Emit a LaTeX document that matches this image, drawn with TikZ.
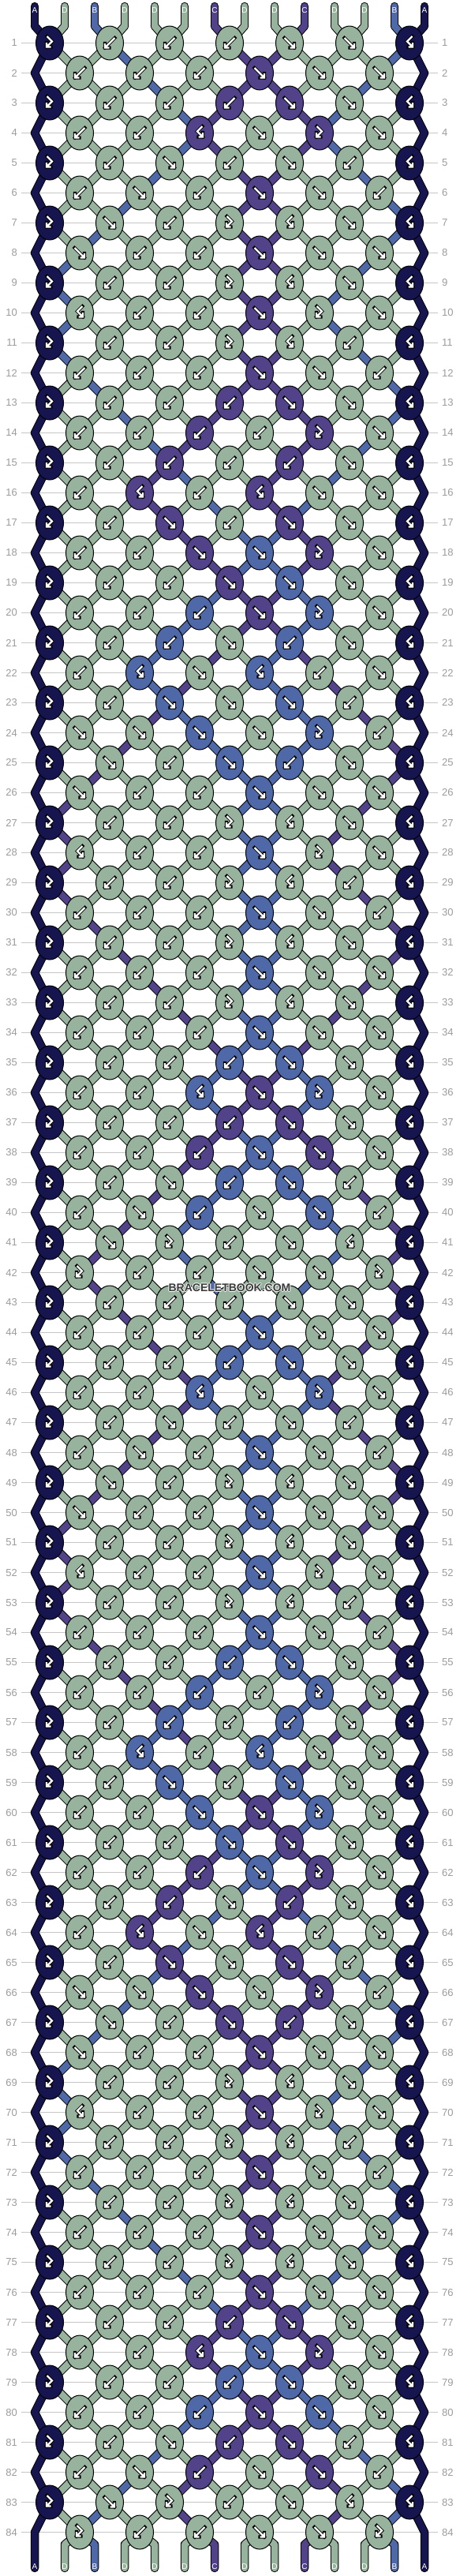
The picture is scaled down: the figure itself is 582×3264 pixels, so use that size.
\documentclass[tikz,border=0pt]{standalone}
\usepackage{fontspec}
\setmainfont{Liberation Sans}
\usetikzlibrary{shapes.geometric}

\definecolor{cA}{HTML}{17154F}
\definecolor{cB}{HTML}{4F69A8}
\definecolor{cC}{HTML}{52428A}
\definecolor{cD}{HTML}{97B39D}
\definecolor{rulegray}{HTML}{C6C6C6}
\definecolor{numgray}{HTML}{9C9C9C}
\definecolor{logogray}{HTML}{3A3A3A}

% colour carried by each string, and the node it last left
\newcommand\setstr[2]{\expandafter\xdef\csname st#1\endcsname{#2}}
\newcommand\getstr[1]{\csname st#1\endcsname}
\newcommand\setlast[2]{\expandafter\xdef\csname lp#1\endcsname{#2}}

% pass 1: string outlines, pass 2: string colours, pass 3: knots and tags
\def\pass{1}
\newcommand\strand[2]{%
  \ifnum\pass=1 \draw[strout] #2;\fi
  \ifnum\pass=2 \draw[strin,draw=c#1] #2;\fi}

% arrow glyphs, shaft then head
\def\arrowf{(-6.5,-6.5) -- (6,6) (6,0.5) -- (6,6) -- (0.5,6)}
\def\arrowb{(6.5,-6.5) -- (-6,6) (-6,0.5) -- (-6,6) -- (-0.5,6)}
\def\arrowF{(-3.5,-8.5) -- (3,-2) -- (-4,5) (-4,-0.5) -- (-4,5) -- (1.5,5)}
\def\arrowB{(3.5,-8.5) -- (-3,-2) -- (4,5) (4,-0.5) -- (4,5) -- (-1.5,5)}

% one knot: row, column, type (f, b, F = forward-backward, B = backward-forward)
\newcommand\tie[3]{%
  \pgfmathtruncatemacro\kr{#2+1}%
  \pgfmathtruncatemacro\rp{#1-1}%
  \edef\lc{\getstr{#2}}\edef\rc{\getstr{\kr}}%
  \edef\lpl{\csname lp#2\endcsname}\edef\lpr{\csname lp\kr\endcsname}%
  \edef\kc{\rc}%
  \if f#3\edef\kc{\lc}\fi
  \if F#3\edef\kc{\lc}\fi
  \ifnum\pass=3
    \node[knot,fill=c\kc] (n#1-#2) at ({63+38*#2},{54.5+38*(#1-1)}) {};
    \edef\apath{\csname arrow#3\endcsname}%
    \draw[arrout,shift={(n#1-#2.center)}] \apath;
    \draw[arrin,shift={(n#1-#2.center)}] \apath;
  \else
    \coordinate (n#1-#2) at ({63+38*#2},{54.5+38*(#1-1)});
    \ifnum#2=0 \ifnum#1>1 \strand{\lc}{(\lpl.center) -- (zl\rp) -- (n#1-#2.center)}%
      \else \strand{\lc}{(\lpl.center) -- (n#1-#2.center)}\fi
    \else \strand{\lc}{(\lpl.center) -- (n#1-#2.center)}\fi
    \ifnum#2=12 \ifnum#1>1 \strand{\rc}{(\lpr.center) -- (zr\rp) -- (n#1-#2.center)}%
      \else \strand{\rc}{(\lpr.center) -- (n#1-#2.center)}\fi
    \else \strand{\rc}{(\lpr.center) -- (n#1-#2.center)}\fi
  \fi
  \setlast{#2}{n#1-#2}\setlast{\kr}{n#1-#2}%
  \if f#3\setstr{#2}{\rc}\setstr{\kr}{\lc}\fi
  \if b#3\setstr{#2}{\rc}\setstr{\kr}{\lc}\fi
}

\def\knotrows{
  1/{F,b,b,b,f,f,B}, 2/{b,b,b,f,f,f}, 3/{F,b,b,b,f,f,B}, 4/{b,b,B,f,F,f},
  5/{F,b,f,b,f,b,B}, 6/{b,f,b,f,f,b}, 7/{F,f,b,F,B,f,B}, 8/{f,b,b,f,f,f},
  9/{F,b,b,F,B,f,B}, 10/{B,b,b,f,F,f}, 11/{F,b,b,F,B,b,B}, 12/{b,b,b,f,f,b},
  13/{F,b,b,b,f,f,B}, 14/{b,b,b,b,F,f}, 15/{F,b,b,b,b,f,B}, 16/{b,B,b,B,f,f},
  17/{F,b,f,b,f,f,B}, 18/{b,b,f,f,F,f}, 19/{F,b,b,f,f,f,B}, 20/{b,b,b,f,F,f},
  21/{F,b,b,f,b,f,B}, 22/{b,B,f,B,b,f}, 23/{F,b,f,f,f,b,B}, 24/{f,f,f,f,F,b},
  25/{F,f,b,f,b,f,B}, 26/{f,b,b,f,f,f}, 27/{F,b,b,F,B,f,B}, 28/{B,b,b,f,F,f},
  29/{F,b,b,F,B,b,B}, 30/{b,b,b,f,f,b}, 31/{F,b,b,F,B,f,B}, 32/{b,b,b,f,f,f},
  33/{F,b,b,F,B,f,B}, 34/{b,b,b,f,f,f}, 35/{F,b,b,b,f,f,B}, 36/{b,b,B,f,F,f},
  37/{F,b,b,b,f,f,B}, 38/{b,b,b,f,f,f}, 39/{F,b,f,b,f,b,B}, 40/{b,f,b,f,f,b},
  41/{F,f,F,b,f,B,B}, 42/{F,b,b,f,f,F}, 43/{F,b,b,b,f,f,B}, 44/{b,b,b,f,f,f},
  45/{F,b,b,b,f,f,B}, 46/{b,b,B,f,F,f}, 47/{F,b,f,b,f,b,B}, 48/{b,f,b,f,f,b},
  49/{F,f,b,F,B,f,B}, 50/{f,b,b,f,f,f}, 51/{F,b,b,F,B,f,B}, 52/{B,b,b,f,F,f},
  53/{F,b,b,F,B,b,B}, 54/{b,b,b,f,f,b}, 55/{F,b,b,b,f,f,B}, 56/{b,b,b,b,F,f},
  57/{F,b,b,b,b,f,B}, 58/{b,B,b,B,f,f}, 59/{F,b,f,b,f,f,B}, 60/{b,b,f,f,F,f},
  61/{F,b,b,f,f,f,B}, 62/{b,b,b,f,F,f}, 63/{F,b,b,f,b,f,B}, 64/{b,B,f,B,b,f},
  65/{F,b,f,f,f,b,B}, 66/{f,f,f,f,F,b}, 67/{F,f,b,f,b,f,B}, 68/{f,b,b,f,f,f},
  69/{F,b,b,F,B,f,B}, 70/{B,b,b,f,F,f}, 71/{F,b,b,F,B,b,B}, 72/{b,b,b,f,f,b},
  73/{F,b,b,F,B,f,B}, 74/{b,b,b,f,f,f}, 75/{F,b,b,F,B,f,B}, 76/{b,b,b,f,f,f},
  77/{F,b,b,b,f,f,B}, 78/{b,b,B,f,F,f}, 79/{F,b,b,b,f,f,B}, 80/{b,b,b,f,f,f},
  81/{F,b,f,b,f,b,B}, 82/{b,f,b,f,f,b}, 83/{F,f,F,b,f,B,B}, 84/{F,b,b,f,f,F}}

% the whole weave, drawn according to \pass
\newcommand\weave{%
  % strings at the top
  \foreach \sc [count=\i from 0] in {A,D,B,D,D,D,C,D,D,C,D,D,B,A}{
    \setstr{\i}{\sc}\setlast{\i}{u\i}
    \strand{\sc}{(t\i) -- (u\i)}
    \ifnum\pass=3 \node[endtag] (a\i) at ({44+38*\i},13) {\sc};\fi
  }
  % the knots, row by row
  \foreach \rw/\knots in \knotrows {
    \pgfmathtruncatemacro\kofs{mod(\rw+1,2)}
    \foreach \kt [count=\kn from 0] in \knots {
      \pgfmathtruncatemacro\kcol{2*\kn+\kofs}
      \tie{\rw}{\kcol}{\kt}
    }
  }
  % strings at the bottom
  \foreach \i in {1,...,12}{
    \edef\lp{\csname lp\i\endcsname}\edef\sc{\getstr{\i}}
    \strand{\sc}{(\lp.center) -- (v\i) -- (w\i)}
    \ifnum\pass=3 \node[endtag] (b\i) at ({44+38*\i},3252) {\sc};\fi
  }
  \edef\lp{\csname lp0\endcsname}
  \strand{A}{(\lp.center) -- (zl84) -- (w0)}
  \edef\lp{\csname lp13\endcsname}
  \strand{A}{(\lp.center) -- (zr84) -- (w13)}
  \ifnum\pass=3
    \node[endtag] (b0) at (44,3252) {\getstr{0}};
    \node[endtag] (b13) at (538,3252) {\getstr{13}};
  \fi
}

\begin{document}
\begin{tikzpicture}[x=1pt,y=-1pt]
\tikzstyle{knot}=[ellipse,draw=black,line width=1pt,minimum width=35pt,minimum height=43pt,inner sep=0pt]
\tikzstyle{strout}=[draw=black,line width=10.5pt,line cap=round,line join=round]
\tikzstyle{strin}=[line width=8.5pt,line cap=round,line join=round]
\tikzstyle{arrout}=[draw=black,line width=4.2pt,line cap=rect,line join=miter]
\tikzstyle{arrin}=[draw=white,line width=2.2pt,line join=miter]
\tikzstyle{rowrule}=[draw=rulegray,line width=1pt]
\tikzstyle{rownum}=[text=numgray,font=\fontsize{13}{13}\selectfont,inner sep=0pt]
\tikzstyle{endtag}=[text=white,font=\fontsize{10}{10}\selectfont,inner sep=0pt]
\tikzstyle{logo}=[text=logogray,font=\bfseries\fontsize{14}{14}\selectfont,inner sep=0pt]

\useasboundingbox (0,0) rectangle (582,3264);
\fill[white] (0,0) rectangle (582,3264);

% row lines, row numbers, turning points of the edge strings
\foreach \rw in {1,...,84}{
  \pgfmathsetmacro\ry{54.5+38*(\rw-1)}
  \coordinate (zl\rw) at (44,\ry);
  \coordinate (zr\rw) at (538,\ry);
  \draw[rowrule] (27,\ry) -- (555,\ry);
  \node[rownum,anchor=east] (ln\rw) at (22,\ry) {\rw};
  \node[rownum,anchor=west] (rn\rw) at (560,\ry) {\rw};
}

% ends of the strings
\foreach \i in {0,...,13}{
  \coordinate (t\i) at ({44+38*\i},8);
  \coordinate (u\i) at ({44+38*\i},33);
  \coordinate (v\i) at ({44+38*\i},3224);
  \coordinate (w\i) at ({44+38*\i},3254);
}

\def\pass{1}\weave
\def\pass{2}\weave
\def\pass{3}\weave

% watermark
\foreach \dx/\dy [count=\h] in {-1/0,1/0,0/-1,0/1}
  \node[logo,text=white] (halo\h) at ({291+\dx},{1632+\dy}) {BRACELETBOOK.COM};
\node[logo] (logo) at (291,1632) {BRACELETBOOK.COM};
\end{tikzpicture}
\end{document}
